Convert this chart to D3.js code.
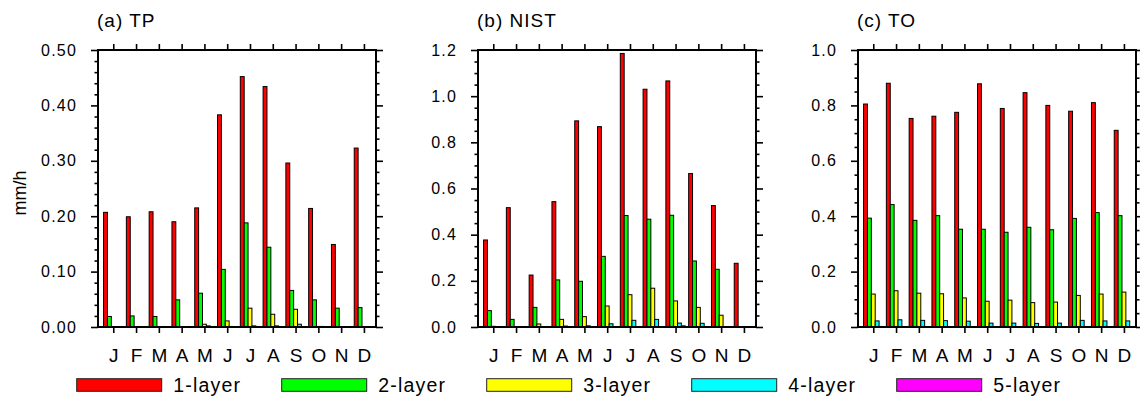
<!DOCTYPE html>
<html>
<head>
<meta charset="utf-8">
<script src="https://cdn.jsdelivr.net/npm/d3@7"></script>
<style>
  html, body { margin: 0; padding: 0; background: #fff; }
  svg { display: block; font-family: "Liberation Sans", Arial, Helvetica, sans-serif; }
</style>
</head>
<body>
<svg id="chart" width="1140" height="400"></svg>
<script>
// ---------- data ----------
const months = ["J","F","M","A","M","J","J","A","S","O","N","D"];
const monthIndex = [1,2,3,4,5,6,7,8,9,10,11,12];
const layerNames = ["1-layer","2-layer","3-layer","4-layer","5-layer"];
const layerColors = ["#ff0000","#00ff00","#ffff00","#00ffff","#ff00ff"];
const panelTitles = ["(a) TP","(b) NIST","(c) TO"];
const yLabel = "mm/h";

// (a) TP
const tp1 = [0.207,0.199,0.208,0.190,0.215,0.383,0.452,0.434,0.296,0.214,0.149,0.323];
const tp2 = [0.019,0.020,0.019,0.049,0.061,0.104,0.188,0.144,0.066,0.049,0.034,0.035];
const tp3 = [0.000,0.000,0.000,0.000,0.005,0.011,0.034,0.023,0.032,0.001,0.000,0.000];
const tp4 = [0.000,0.000,0.000,0.000,0.002,0.001,0.002,0.002,0.005,0.001,0.000,0.000];
const tp5 = [0.000,0.000,0.000,0.000,0.000,0.000,0.000,0.000,0.000,0.000,0.000,0.000];

// (b) NIST
const nist1 = [0.377,0.517,0.225,0.543,0.893,0.868,1.185,1.030,1.066,0.665,0.526,0.276];
const nist2 = [0.071,0.033,0.085,0.204,0.198,0.306,0.483,0.467,0.484,0.286,0.250,0.002];
const nist3 = [0.003,0.000,0.013,0.033,0.045,0.091,0.140,0.168,0.113,0.085,0.051,0.000];
const nist4 = [0.002,0.000,0.002,0.004,0.005,0.014,0.029,0.033,0.017,0.016,0.002,0.000];
const nist5 = [0.000,0.000,0.000,0.000,0.002,0.002,0.002,0.002,0.005,0.002,0.000,0.000];

// (c) TO
const to1 = [0.805,0.880,0.753,0.761,0.775,0.878,0.789,0.846,0.800,0.779,0.810,0.710];
const to2 = [0.393,0.442,0.385,0.402,0.353,0.353,0.342,0.360,0.351,0.392,0.413,0.402];
const to3 = [0.119,0.131,0.122,0.120,0.105,0.093,0.097,0.088,0.090,0.114,0.119,0.126];
const to4 = [0.022,0.026,0.024,0.023,0.021,0.014,0.014,0.013,0.014,0.024,0.022,0.022];
const to5 = [0.002,0.001,0.001,0.001,0.001,0.001,0.001,0.001,0.001,0.001,0.001,0.001];

// y axis tick values
const tpTicks = [0,0.1,0.2,0.3,0.4,0.5];
const tpMinor = [0.02,0.04,0.06,0.08,0.12,0.14,0.16,0.18,0.22,0.24,0.26,0.28,0.32,0.34,0.36,0.38,0.42,0.44,0.46,0.48];
const nistTicks = [0,0.2,0.4,0.6,0.8,1.0,1.2];
const nistMinor = [0.05,0.1,0.15,0.25,0.3,0.35,0.45,0.5,0.55,0.65,0.7,0.75,0.85,0.9,0.95,1.05,1.1,1.15];
const toTicks = [0,0.2,0.4,0.6,0.8,1.0];
const toMinor = [0.05,0.1,0.15,0.25,0.3,0.35,0.45,0.5,0.55,0.65,0.7,0.75,0.85,0.9,0.95];

const panels = [
  { title: panelTitles[0], series: [tp1,tp2,tp3,tp4,tp5], ymax: 0.5, ticks: tpTicks, minor: tpMinor, fmt: ".2f" },
  { title: panelTitles[1], series: [nist1,nist2,nist3,nist4,nist5], ymax: 1.2, ticks: nistTicks, minor: nistMinor, fmt: ".1f" },
  { title: panelTitles[2], series: [to1,to2,to3,to4,to5], ymax: 1.0, ticks: toTicks, minor: toMinor, fmt: ".1f" }
];

// ---------- layout ----------
const svg = d3.select("#chart");
const plotW = 278, plotH = 277, plotTop = 50;
const lefts = [98, 478, 858];
const barW = 0.17; // in x units

panels.forEach((p, pi) => {
  const g = svg.append("g").attr("transform", `translate(${lefts[pi]},${plotTop})`);
  const x = d3.scaleLinear().domain([0.33, 12.53]).range([0, plotW]);
  const y = d3.scaleLinear().domain([0, p.ymax]).range([plotH, 0]);

  // bars
  p.series.forEach((vals, li) => {
    g.append("g").selectAll("rect")
      .data(vals.map((v, i) => ({ v, m: monthIndex[i] })))
      .join("rect")
      .attr("x", d => x(d.m + (li - 2) * barW - barW / 2))
      .attr("width", x(barW) - x(0))
      .attr("y", d => y(d.v))
      .attr("height", d => y(0) - y(d.v))
      .attr("fill", layerColors[li])
      .attr("stroke", "#000")
      .attr("stroke-width", 1);
  });

  const styleAxis = sel => {
    sel.select(".domain").remove();
    sel.selectAll("line").attr("stroke", "#000").attr("stroke-width", 1.6);
  };

  // left axis
  const la = g.append("g").call(d3.axisLeft(y).tickValues(p.ticks).tickSize(7).tickPadding(14).tickFormat(d3.format(p.fmt)));
  styleAxis(la);
  la.selectAll("text").attr("font-size", 16).attr("letter-spacing", 1.2).attr("fill", "#000").attr("font-family", null);
  const lm = g.append("g").call(d3.axisLeft(y).tickValues(p.minor).tickSize(3.5).tickFormat(""));
  styleAxis(lm);

  // right axis
  const ra = g.append("g").attr("transform", `translate(${plotW},0)`).call(d3.axisRight(y).tickValues(p.ticks).tickSize(7).tickFormat(""));
  styleAxis(ra);
  const rm = g.append("g").attr("transform", `translate(${plotW},0)`).call(d3.axisRight(y).tickValues(p.minor).tickSize(3.5).tickFormat(""));
  styleAxis(rm);

  // top axis
  const ta = g.append("g").call(d3.axisTop(x).tickValues(monthIndex).tickSize(6).tickFormat(""));
  styleAxis(ta);

  // bottom axis
  const ba = g.append("g").attr("transform", `translate(0,${plotH})`)
    .call(d3.axisBottom(x).tickValues(monthIndex).tickSize(6).tickPadding(15.5).tickFormat((d, i) => months[i]));
  styleAxis(ba);
  ba.selectAll("text").attr("font-size", 19).attr("fill", "#000").attr("font-family", null);

  // frame
  g.append("rect").attr("x", 0).attr("y", 0).attr("width", plotW).attr("height", plotH)
    .attr("fill", "none").attr("stroke", "#000").attr("stroke-width", 2);

  // title
  svg.append("text").attr("x", lefts[pi] - 1).attr("y", 26.5)
    .attr("font-size", 19).attr("letter-spacing", 1).attr("fill", "#000").text(p.title);
});

// y label
svg.append("text")
  .attr("transform", "translate(26,193) rotate(-90)")
  .attr("text-anchor", "middle")
  .attr("font-size", 18).attr("fill", "#000").text(yLabel);

// legend
const lg = svg.append("g");
layerNames.forEach((name, i) => {
  const bx = 76.7 + i * 205;
  lg.append("rect").attr("x", bx).attr("y", 378.7).attr("width", 85).attr("height", 12.6)
    .attr("fill", layerColors[i]).attr("stroke", "#222").attr("stroke-width", 1);
  lg.append("text").attr("x", bx + 96.6).attr("y", 391.5)
    .attr("font-size", 19.5).attr("letter-spacing", 1.2).attr("fill", "#000").text(name);
});
</script>
</body>
</html>
